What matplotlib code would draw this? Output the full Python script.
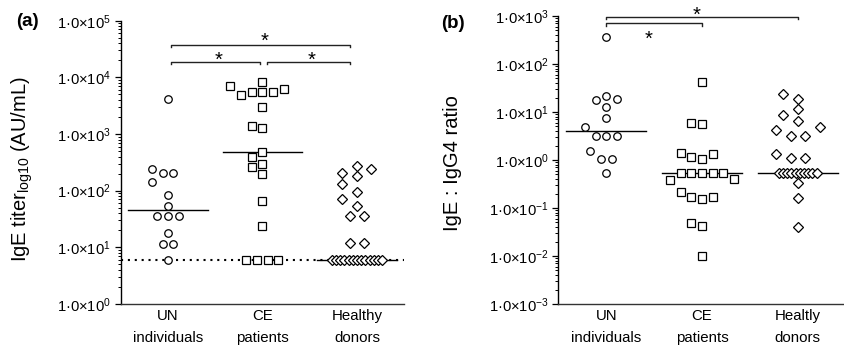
import numpy as np
import matplotlib
matplotlib.use('Agg')
import matplotlib.pyplot as plt
from matplotlib.ticker import LogLocator, FuncFormatter, NullFormatter

plt.rcParams['font.family'] = ['Liberation Sans', 'DejaVu Sans']
plt.rcParams['mathtext.fontset'] = 'custom'
plt.rcParams['mathtext.rm'] = 'Liberation Sans'
plt.rcParams['mathtext.it'] = 'Liberation Sans:italic'
plt.rcParams['mathtext.bf'] = 'Liberation Sans:bold'

# ---- data ----
groups_a = ['UN\nindividuals', 'CE\npatients', 'Healthy\ndonors']
groups_b = ['UN\nindividuals', 'CE\npatients', 'Healtly\ndonors']

# (a) IgE titer, AU/mL
ige_un = [4200, 202, 244, 202, 143, 84, 54, 36, 36, 36, 18, 11.6, 11.6, 6]
ige_ce = [7100, 5560, 5560, 8200, 4850, 5560, 6300, 3020, 1380, 1290,
          264, 396, 198, 473, 298, 66, 24, 6, 6, 6, 6]
ige_hd = [237, 184, 202, 272, 129, 94, 72, 54, 36, 36, 11.8, 11.8,
          6, 6, 6, 6, 6, 6, 6, 6, 6, 6, 6, 6, 6]
detection_limit = 6

# (b) IgE : IgG4 ratio
ratio_un = [371, 18.4, 21.5, 17.8, 12.9, 7.4, 4.8, 3.16, 3.16, 3.16,
            1.56, 1.05, 1.05, 0.53]
ratio_ce = [41.5, 5.8, 5.5, 1.35, 1.07, 1.17, 1.4, 0.535, 0.535, 0.535,
            0.535, 0.535, 0.396, 0.38, 0.172, 0.151, 0.169, 0.219,
            0.049, 0.043, 0.01]
ratio_hd = [23.7, 18.7, 11.4, 8.66, 6.6, 4.87, 4.15, 3.21, 3.21, 1.33,
            1.08, 1.08, 0.535, 0.535, 0.535, 0.535, 0.535, 0.535, 0.535,
            0.535, 0.535, 0.535, 0.327, 0.164, 0.041]

# significance brackets: (x1, x2, y)
brackets_a = [(0.03, 1.93, 38000), (0.03, 0.97, 18750), (1.05, 1.93, 18750)]
brackets_b = [(0.0, 2.0, 966), (0.0, 1.0, 705)]


def swarm_x(ax, x0, vals, h=5.35, cy=9.5, w=26, tight=4.2):
    # beeswarm in pixel space; identical values are put in one row first
    vals = np.asarray(vals, float)
    y = ax.transData.transform(np.column_stack([np.full(len(vals), x0), vals]))[:, 1]
    ppu = ax.transData.transform((1, 1))[0] - ax.transData.transform((0, 1))[0]
    xs = np.full(len(vals), np.nan)
    for v in np.unique(vals):
        idx = np.where(vals == v)[0]
        n = len(idx)
        if n > 1:
            step = 2 * h if (n - 1) * 2 * h <= 2 * w else tight
            xs[idx] = (np.arange(n) - (n - 1) / 2) * step
    cands = [0.0] + [s * k * h for k in range(1, 14) for s in (-1, 1)]
    for i in np.argsort(vals, kind='stable'):
        if not np.isnan(xs[i]):
            continue
        placed = ~np.isnan(xs)
        for cx in cands:
            hit = (np.abs(xs[placed] - cx) < 2 * h - 0.01) & (np.abs(y[placed] - y[i]) < cy)
            if not hit.any():
                xs[i] = cx
                break
    return x0 + xs / ppu


def sci_label(v, pos):
    return '1·0×10$^{%d}$' % int(round(np.log10(v)))


def setup_axes(ax, ylim, labels):
    ax.set_yscale('log')
    ax.set_ylim(*ylim)
    ax.set_xlim(-0.5, 2.5)
    for s in ['top', 'right']:
        ax.spines[s].set_visible(False)
    ax.spines['left'].set_linewidth(1.0)
    ax.spines['bottom'].set_linewidth(1.0)
    ax.spines['bottom'].set_color('#333333')
    ax.yaxis.set_major_locator(LogLocator(base=10, numticks=12))
    ax.yaxis.set_minor_locator(LogLocator(base=10, subs=np.arange(2, 10), numticks=12))
    ax.yaxis.set_major_formatter(FuncFormatter(sci_label))
    ax.yaxis.set_minor_formatter(NullFormatter())
    ax.tick_params(axis='y', which='major', direction='out', length=4.5, width=0.9,
                   labelsize=10.6, pad=2.5)
    ax.tick_params(axis='y', which='minor', direction='out', length=2.5, width=0.7)
    ax.set_xticks([0, 1, 2])
    ax.set_xticklabels(labels, fontsize=10.8, linespacing=1.75)
    ax.tick_params(axis='x', length=0, pad=3.5)


def draw_groups(ax, data, markers, msizes, steps):
    for i, (vals, m, ms, h) in enumerate(zip(data, markers, msizes, steps)):
        xs = swarm_x(ax, i, vals, h=h)
        med = np.median(vals)
        ax.plot([i - 0.42, i + 0.42], [med, med], color='black', lw=1.0, zorder=2)
        ax.plot(xs, vals, ls='none', marker=m, ms=ms, mfc='white', mec='black',
                mew=0.9, zorder=3, clip_on=False)


def draw_brackets(ax, brackets, drop=2.5):
    for x1, x2, y in brackets:
        p1 = ax.transData.transform((x1, y))
        ylow = ax.transData.inverted().transform((p1[0], p1[1] - drop))[1]
        ax.plot([x1, x1, x2, x2], [ylow, y, y, ylow], color='#222222', lw=1.0,
                clip_on=False, zorder=2)


def star(ax, x, y, dy):
    ax.annotate('*', xy=(x, y), xytext=(0, dy), textcoords='offset points',
                ha='center', va='baseline', fontsize=14.5, annotation_clip=False)


fig = plt.figure(figsize=(8.44, 3.54), dpi=100)
ax1 = fig.add_axes([0.1430, 0.1412, 0.3359, 0.8003])
ax2 = fig.add_axes([0.6615, 0.1412, 0.3405, 0.8136])

markers = ['o', 's', 'D']
msizes = [5.4, 5.4, 4.9]
steps = [5.35, 5.35, 7.25]

# panel (a)
setup_axes(ax1, (1, 1e5), groups_a)
ax1.axhline(detection_limit, color='black', lw=1.5, ls=(0, (1, 2.3)), zorder=1)
draw_groups(ax1, [ige_un, ige_ce, ige_hd], markers, msizes, steps)
draw_brackets(ax1, brackets_a)
star(ax1, 1.02, 38000, -2)
star(ax1, 0.54, 18750, -3)
star(ax1, 1.52, 18750, -3)

# panel (b)
setup_axes(ax2, (1e-3, 1e3), groups_b)
draw_groups(ax2, [ratio_un, ratio_ce, ratio_hd], markers, msizes, steps)
draw_brackets(ax2, brackets_b)
star(ax2, 0.94, 966, -2.7)
star(ax2, 0.445, 705, -15.4)

fig.text(22.5 / 844, 1 - 169 / 354, 'IgE titer$_{\\mathrm{log10}}$ (AU/mL)',
         rotation=90, ha='center', va='center', fontsize=14.5)
fig.text(453 / 844, 1 - 163.5 / 354, 'IgE : IgG4 ratio',
         rotation=90, ha='center', va='center', fontsize=14.5)
fig.text(16.5 / 844, 1 - 21 / 354, '(a)', fontweight='bold', fontsize=13.5,
         ha='left', va='center')
fig.text(441.5 / 844, 1 - 23.5 / 354, '(b)', fontweight='bold', fontsize=13.5,
         ha='left', va='center')

fig.savefig('out.png', dpi=100)
